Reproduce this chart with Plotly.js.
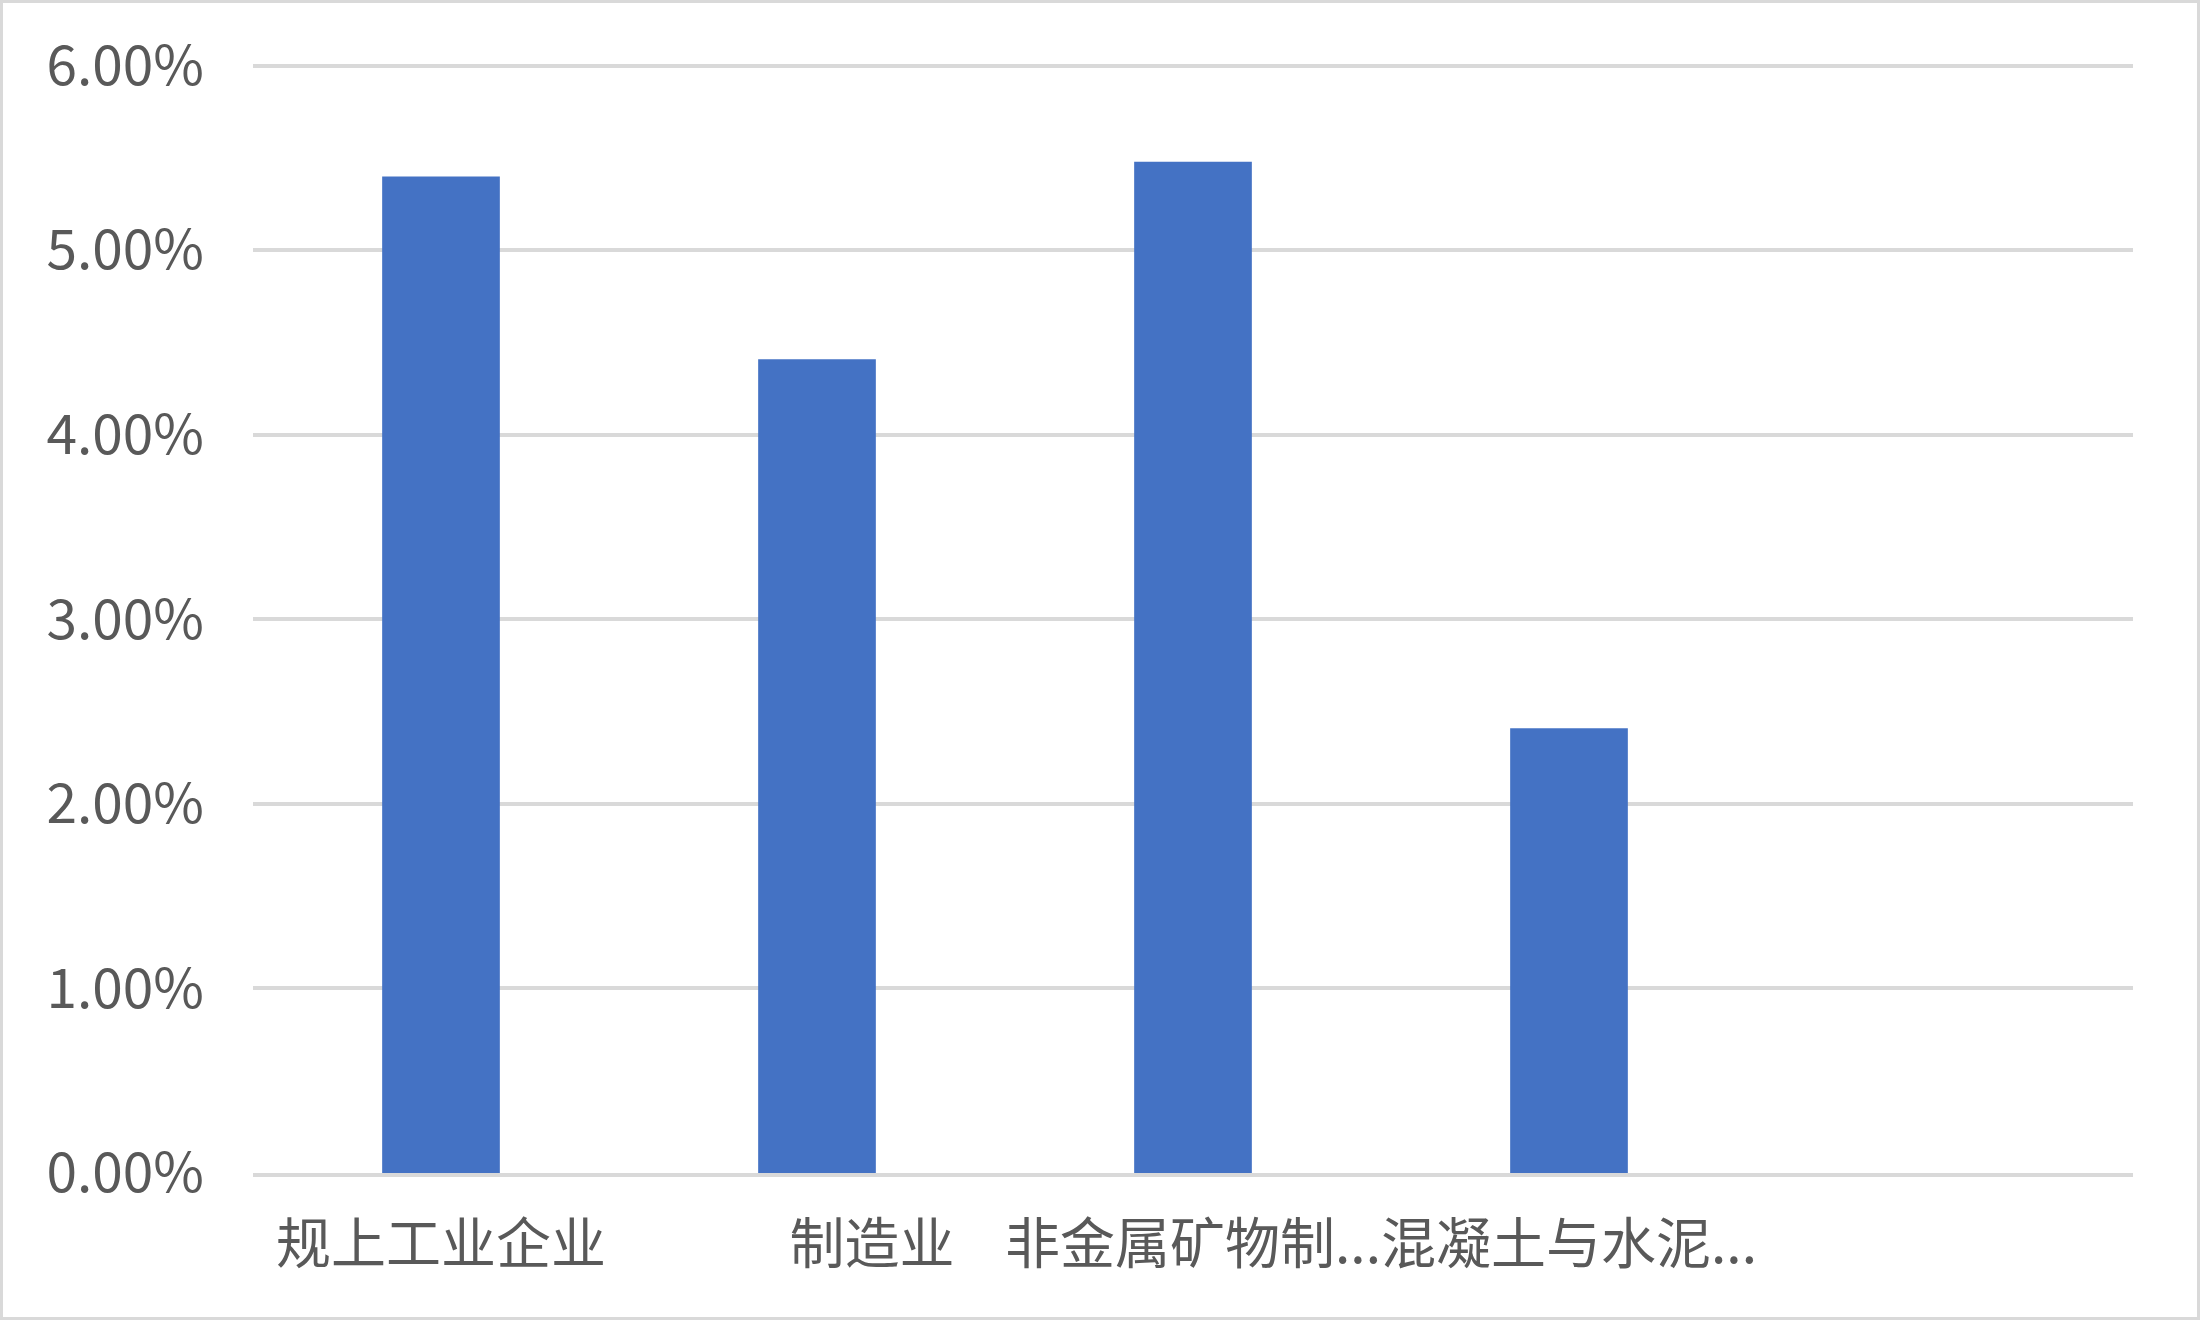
<!DOCTYPE html>
<html>
<head>
<meta charset="utf-8">
<script src="https://cdn.plot.ly/plotly-3.0.1.min.js"></script>
<style>
  html, body { margin: 0; padding: 0; background: #ffffff; }
  #chart { width: 2200px; height: 1320px; box-sizing: border-box; border: 3px solid #d9d9d9; }
</style>
</head>
<body>
<div id="chart"></div>
<script>
/* Excel-style single-series column chart, percent axis. */

const INK = "#595959";
const GRID = "#d9d9d9";
const BAR = "#4472c4";

const categories = ["规上工业企业", "\u3000\u3000制造业", "非金属矿物制...", "混凝土与水泥..."];
const values = [0.0540, 0.0441, 0.0548, 0.0241];
const yTicks = [0, 0.01, 0.02, 0.03, 0.04, 0.05, 0.06];

const FONT = '"Noto Sans CJK SC", "Noto Sans", sans-serif';

const traces = [{
  type: "bar",
  x: categories,
  y: values,
  marker: { color: BAR, line: { width: 0 } },
  hoverinfo: "skip",
}];

// top edge pushed up a hair so the 6.00% gridline is not dropped at the boundary
const layout = {
  width: 2194,
  height: 1314,
  paper_bgcolor: "#ffffff",
  plot_bgcolor: "#ffffff",
  font: { family: FONT, color: INK, size: 55 },
  margin: { l: 250, r: 64, t: 59, b: 144, pad: 0 },
  showlegend: false,
  bargap: 0.687,
  xaxis: {
    type: "category",
    range: [-0.5, 4.5],
    showgrid: false,
    zeroline: false,
    showline: true,
    linecolor: GRID,
    linewidth: 4,
    ticks: "",
    tickangle: 0,
    automargin: false,
    ticklabelstandoff: 20,
    tickfont: { family: FONT, color: INK, size: 55 },
    fixedrange: true,
  },
  yaxis: {
    range: [0, 0.0602],
    tickvals: yTicks,
    tickformat: ".2%",
    showgrid: true,
    gridcolor: GRID,
    gridwidth: 4,
    zeroline: false,
    showline: false,
    ticks: "",
    automargin: false,
    ticklabelstandoff: 48,
    tickfont: { family: FONT, color: INK, size: 55 },
    fixedrange: true,
  },
};

Plotly.newPlot("chart", traces, layout, { displayModeBar: false, staticPlot: true });
</script>
</body>
</html>
